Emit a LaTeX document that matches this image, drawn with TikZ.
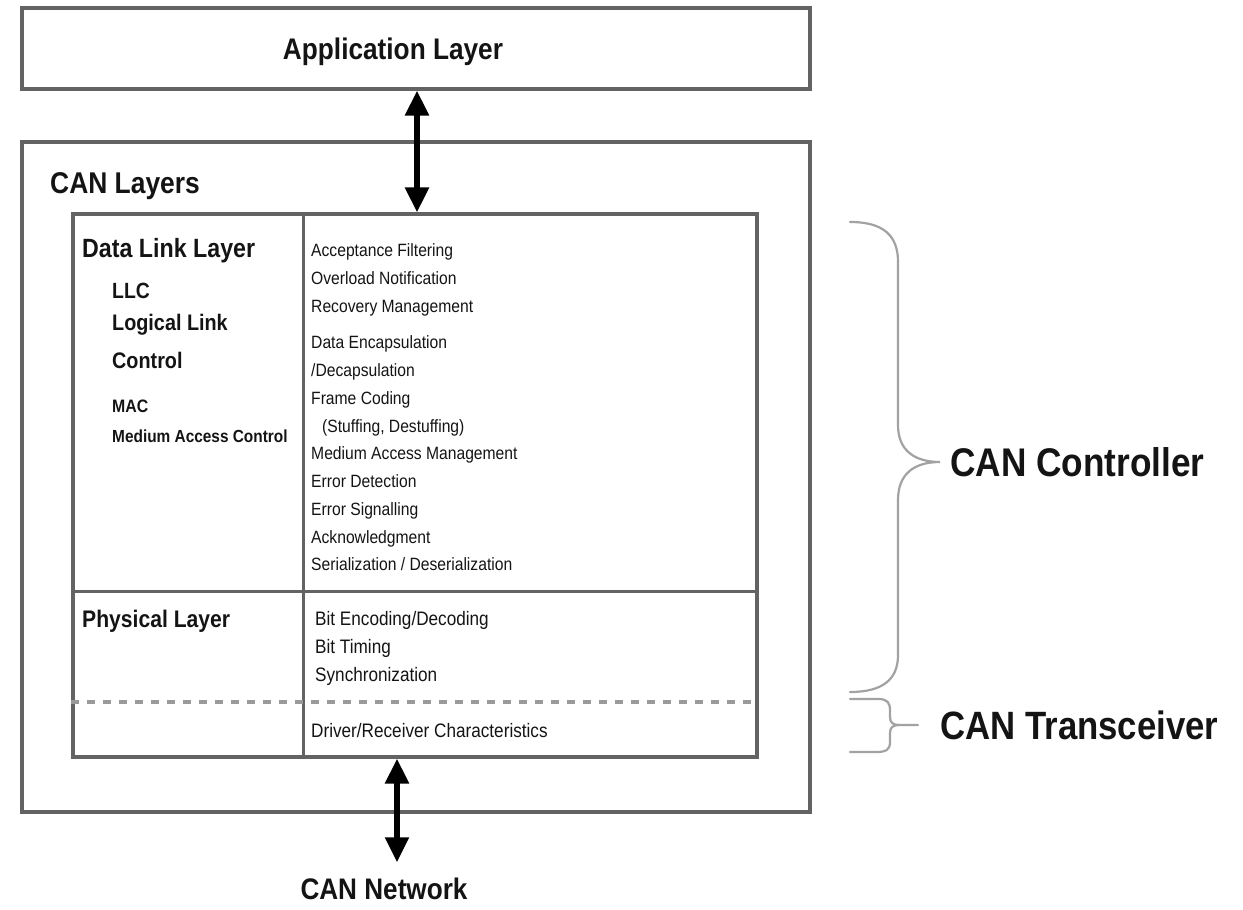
\documentclass[tikz,border=0pt]{standalone}
\usepackage{fontspec}
\setmainfont[FakeStretch=0.88]{Liberation Sans}
\usetikzlibrary{arrows.meta}
\definecolor{frame}{HTML}{636363}
\definecolor{ink}{HTML}{141414}
\definecolor{bracegray}{HTML}{A2A2A2}
\definecolor{dashgray}{HTML}{9A9A9A}
\tikzset{
  box/.style={draw=frame, line width=3.2pt, rectangle, inner sep=0pt},
  divider/.style={draw=frame, line width=3pt},
  txt/.style={inner sep=0pt, anchor=base west, text=ink},
  ctxt/.style={inner sep=0pt, anchor=base, text=ink},
  item/.style={txt, font=\fontsize{17.8}{20}\selectfont},
  pitem/.style={txt, font=\fontsize{19.5}{22}\selectfont},
  dbl/.style={line width=5.4pt, black, {Triangle[width=23pt,length=25pt]}-{Triangle[width=23pt,length=25pt]}},
  brace/.style={draw=bracegray, line width=2.2pt, line cap=round},
}
\begin{document}
\begin{tikzpicture}[x=1pt, y=-1pt]
\useasboundingbox (0,0) rectangle (1243,910);

% frames
\node[box, minimum width=788pt, minimum height=81pt] (app) at (416,48.5) {};
\node[box, minimum width=788pt, minimum height=670pt] (can) at (416,477) {};
\node[box, minimum width=684pt, minimum height=543pt] (inner) at (415,485.5) {};

% inner grid
\coordinate (divx) at (303,0);
\coordinate (hy) at (0,591);
\coordinate (dy) at (0,702);
\draw[divider] (inner.north -| divx) -- (inner.south -| divx);
\draw[divider] (inner.west |- hy) -- (inner.east |- hy);
\draw[draw=dashgray, line width=3.8pt, dash pattern=on 8pt off 8pt] (inner.west |- dy) -- (inner.east |- dy);

% titles
\node[ctxt, font=\bfseries\fontsize{29.8}{32}\selectfont] (apptitle) at (393,59) {Application Layer};
\node[txt, font=\bfseries\fontsize{30}{32}\selectfont] (cantitle) at (50,193) {CAN Layers};
\node[ctxt, font=\bfseries\fontsize{29.7}{32}\selectfont] (net) at (384,899) {CAN Network};

% left column
\node[txt, font=\bfseries\fontsize{26.4}{28}\selectfont] (dll) at (82,257.5) {Data Link Layer};
\node[txt, font=\bfseries\fontsize{22}{24}\selectfont] (llc) at (112,298) {LLC};
\node[txt, font=\bfseries\fontsize{22.5}{24}\selectfont] (llc2) at (112,330) {Logical Link};
\node[txt, font=\bfseries\fontsize{22.5}{24}\selectfont] (llc3) at (112,368) {Control};
\node[txt, font=\bfseries\fontsize{18}{20}\selectfont] (mac) at (112,412.5) {MAC};
\node[txt, font=\bfseries\fontsize{17.5}{20}\selectfont] (mac2) at (112,442.5) {Medium Access Control};
\node[txt, font=\bfseries\fontsize{24}{26}\selectfont] (phy) at (82,627.5) {Physical Layer};

% data link functions
\node[item] (f1) at (311,256.5) {Acceptance Filtering};
\node[item] (f2) at (311,284.5) {Overload Notification};
\node[item] (f3) at (311,312.5) {Recovery Management};
\node[item] (f4) at (311,348.5) {Data Encapsulation};
\node[item] (f5) at (311,376.5) {/Decapsulation};
\node[item] (f6) at (311,404.5) {Frame Coding};
\node[item] (f7) at (322,432.5) {(Stuffing, Destuffing)};
\node[item] (f8) at (311,459.5) {Medium Access Management};
\node[item] (f9) at (311,487.5) {Error Detection};
\node[item] (f10) at (311,515.5) {Error Signalling};
\node[item] (f11) at (311,543.5) {Acknowledgment};
\node[item] (f12) at (311,570.5) {Serialization / Deserialization};

% physical functions
\node[pitem] (p1) at (315,625) {Bit Encoding/Decoding};
\node[pitem] (p2) at (315,653) {Bit Timing};
\node[pitem] (p3) at (315,681) {Synchronization};
\node[pitem] (p4) at (311,737) {Driver/Receiver Characteristics};

% connectors
\coordinate (topx) at (417,0);
\coordinate (botx) at (397,0);
\draw[dbl] (app.south -| topx) -- (inner.north -| topx);
\draw[dbl, shorten >=15pt] (inner.south -| botx) -- (net.north -| botx);

% braces and their labels
\draw[brace] (850,222) .. controls (884,222) and (898,236) .. (898,262)
  -- (898,425) .. controls (898,450) and (914,462) .. (940,462)
  .. controls (914,462) and (898,474) .. (898,500)
  -- (898,655) .. controls (898,680) and (882,692) .. (850,692);
\draw[brace] (850,699) -- (878,699) .. controls (888,699) and (890,703) .. (890,711)
  -- (890,717) .. controls (890,723) and (893,725) .. (900,725) -- (918,725)
  (900,725) .. controls (893,725) and (890,727) .. (890,733)
  -- (890,742) .. controls (890,750) and (886,752) .. (876,752) -- (850,752);
\node[txt, font=\bfseries\fontsize{40}{42}\selectfont] (ctrl) at (950,476) {CAN Controller};
\node[txt, font=\bfseries\fontsize{39.5}{42}\selectfont] (xcvr) at (940,739) {CAN Transceiver};
\end{tikzpicture}
\end{document}
